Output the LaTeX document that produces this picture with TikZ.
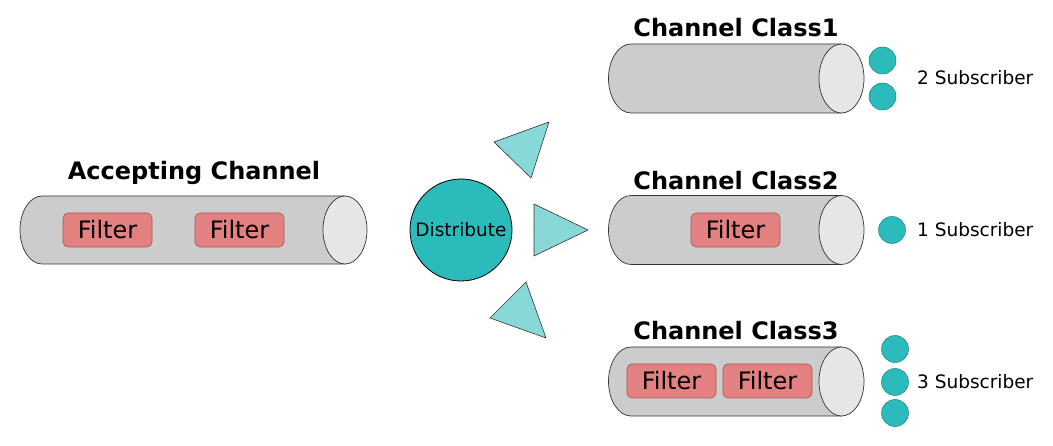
\documentclass[tikz,border=0pt]{standalone}
\usepackage{fontspec}
\setmainfont{DejaVu Sans}
\definecolor{cylbody}{HTML}{CCCCCC}
\definecolor{cylend}{HTML}{E6E6E6}
\definecolor{cylline}{HTML}{333333}
\definecolor{filterfill}{HTML}{E38080}
\definecolor{filterline}{HTML}{A05A5A}
\definecolor{tealc}{HTML}{2CBBBB}
\definecolor{tealline}{HTML}{1E7F7F}
\definecolor{lightteal}{HTML}{88D8D8}
\newcommand\mycyl[5]{% xl xr yc rx ry
  \filldraw[fill=cylbody,draw=cylline,line width=0.7pt] (#1,#3-#5) -- (#2,#3-#5) -- (#2,#3+#5) -- (#1,#3+#5)
    arc[start angle=90,end angle=270,x radius=#4,y radius=#5] -- cycle;
  \filldraw[fill=cylend,draw=cylline,line width=0.7pt] (#2,#3) ellipse[x radius=#4,y radius=#5];}
\begin{document}
\begin{tikzpicture}[x=1pt,y=-1pt,
  heading/.style={font=\fontsize{24}{28}\selectfont\bfseries},
  filterbox/.style={draw=filterline,fill=filterfill,rounded corners=5pt,line width=0.6pt,
    minimum width=89pt,minimum height=34pt,inner sep=0pt,font=\fontsize{24}{28}\selectfont},
  subc/.style={circle,draw=tealline,fill=tealc,line width=0.5pt,minimum size=27pt,inner sep=0pt},
  sublabel/.style={anchor=west,font=\fontsize{18.5}{22}\selectfont,inner sep=0pt},
  tri/.style={draw=cylline,fill=lightteal,line width=0.6pt}]
\useasboundingbox (0,0) rectangle (1053,446);
% Accepting channel
\mycyl{42}{345}{230}{22}{34}
\node[heading] (hacc) at (194,173) {Accepting Channel};
\node[filterbox] (fa1) at (107.5,230) {Filter};
\node[filterbox] (fa2) at (239.5,230) {Filter};
% Distribute
\node[circle,draw=black,fill=tealc,line width=0.8pt,minimum size=102pt,inner sep=0pt,
  font=\fontsize{18.5}{22}\selectfont] (dist) at (461,230) {Distribute};
% triangles
\filldraw[tri] (494,142) -- (549,122) -- (531,178) -- cycle;
\filldraw[tri] (534,204) -- (588,230) -- (534,256) -- cycle;
\filldraw[tri] (526,282) -- (490,318) -- (546,338) -- cycle;
% Channel Class1
\mycyl{631}{841.5}{78.5}{22.5}{34.5}
\node[heading] (h1) at (736,28) {Channel Class1};
\node[subc] (s11) at (882.5,60.5) {};
\node[subc] (s12) at (882.5,96.5) {};
\node[sublabel] (l1) at (917,78) {2 Subscriber};
% Channel Class2
\mycyl{631}{841.5}{230}{22.5}{34.5}
\node[heading] (h2) at (736,181) {Channel Class2};
\node[filterbox] (f21) at (735.5,230) {Filter};
\node[subc] (s21) at (892,230) {};
\node[sublabel] (l2) at (917,230) {1 Subscriber};
% Channel Class3
\mycyl{631}{841.5}{381.5}{22.5}{34.5}
\node[heading] (h3) at (736,331) {Channel Class3};
\node[filterbox] (f31) at (671.5,381) {Filter};
\node[filterbox] (f32) at (767.5,381) {Filter};
\node[subc] (s31) at (895,349) {};
\node[subc] (s32) at (895,382) {};
\node[subc] (s33) at (895,413) {};
\node[sublabel] (l3) at (917,382) {3 Subscriber};
\end{tikzpicture}
\end{document}
